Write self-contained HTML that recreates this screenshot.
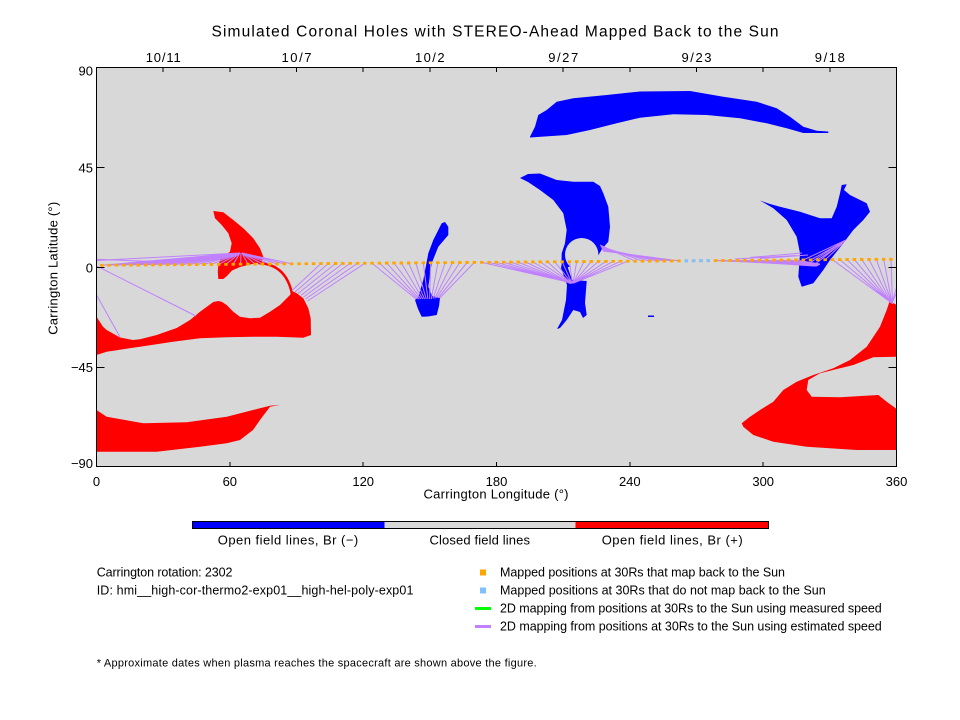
<!DOCTYPE html>
<html><head><meta charset="utf-8"><style>
html,body{margin:0;padding:0;background:#fff;}
svg{display:block;}
text{font-family:"Liberation Sans",sans-serif;fill:#000;}
</style></head><body>
<svg width="960" height="720" viewBox="0 0 960 720" xmlns="http://www.w3.org/2000/svg">
<defs>
<clipPath id="pc"><rect x="96.5" y="67.5" width="800" height="399"/></clipPath>
<pattern id="dots" patternUnits="userSpaceOnUse" x="99.95" y="263.8" width="7.308" height="20"><rect x="0" y="0" width="3.5" height="3" fill="#ffa500"/></pattern>
</defs>
<rect x="0" y="0" width="960" height="720" fill="#fff"/>

<!-- title -->
<text x="495" y="36.5" font-size="15.5" text-anchor="middle" textLength="567" lengthAdjust="spacing">Simulated Coronal Holes with STEREO-Ahead Mapped Back to the Sun</text>

<!-- date labels -->
<g font-size="13" text-anchor="middle">
<text x="163.2" y="62" textLength="35">10/11</text>
<text x="296.5" y="62" textLength="30">10/7</text>
<text x="429.8" y="62" textLength="29.5">10/2</text>
<text x="563.2" y="62" textLength="30">9/27</text>
<text x="696.5" y="62" textLength="30">9/23</text>
<text x="829.8" y="62" textLength="30">9/18</text>
</g>

<!-- plot background -->
<rect x="96.5" y="67.5" width="800" height="399" fill="#d8d8d8"/>

<g clip-path="url(#pc)">
<!-- Blue polar band -->
<path fill="#0000ff" d="M530,136.7 L535,126.7 L538.3,115 L546.7,110 L556.7,101.7 L573.3,98.3 L606.7,95 L640,91.5 L690,91 L723.3,96.7 L756.7,101.7 L776.7,108.3 L790,116.7 L803.3,126.7 L816.7,130.7 L828.3,131.5 L828.3,133 L803.3,133 L786.7,128.3 L766.7,123.3 L740,118.3 L706.7,115 L673.3,114.3 L640,117.7 L616.7,123.3 L590,130 L566.7,135 L530,137.5 Z"/>
<!-- Blue hole lon ~210 -->
<path fill="#0000ff" d="M520,178 L528,174 L540,173.5 L556.7,180 L573.3,181.7 L593.3,181.7 L600,186 L603.3,193.3 L608.3,206.7 L610,226.7 L608.3,241.7 L602,249 L598,256 L582,262 L566,268 L563,268 L561.5,262 L561.7,253.3 L565,243.3 L566.7,230 L563.3,213.3 L553.3,200 L540,190 L528,182 Z"/>
<circle cx="581.7" cy="254.7" r="16.7" fill="#d8d8d8"/>
<path fill="#0000ff" d="M562,262 L566,262 L572,280 L586.7,281 L585,303 L586.7,315 L583,318 L580,312 L573.3,310 L566.7,320 L560,328 L557,329 L562,320 L566,300 L567,285 L561,268 Z"/>
<rect x="648" y="315.5" width="6" height="1.5" fill="#0000ff"/>
<!-- Blue strip lon ~150 -->
<path fill="#0000ff" d="M441.7,223.3 L445,222 L448.3,226.7 L448.3,235 L438.3,246.7 L431.7,263.3 L428.3,286.7 L432,296 L440,298 L439,306 L436.7,315 L428,316.5 L421.7,316.7 L418,309 L415,300 L418.3,296.7 L423.3,280 L428.3,253.3 L433.3,240 Z"/>
<!-- Blue hole lon ~330 -->
<path fill="#0000ff" d="M760,200.5 L770,204 L780,206.7 L800,211.7 L820,218.3 L831.7,218.3 L836.7,206.7 L840,193.3 L841.7,185 L846.7,184.3 L844,190 L850,195 L866.7,203.3 L870,211.7 L863.3,220 L853.3,230 L843.3,243.3 L830,260 L823.3,270 L813.3,283.3 L801.7,286.7 L798.3,276.7 L800,253.3 L796.7,236.7 L786.7,220 L773.3,208.3 Z"/>

<!-- Red fin -->
<path fill="#ff0000" d="M213.3,211 L223.3,212.3 L233.3,220 L243.3,228.3 L253.3,238.3 L260,248.3 L263.3,256.7 L262,262 L250,264.5 L240,267 L232,270.5 L227,276 L223.3,279 L218.3,279 L217.8,271.7 L218.3,265 L221,258 L230,251.7 L231.7,243.3 L228.3,233.3 L221.7,225 L215,218.3 Z"/>
<path fill="none" stroke="#ff0000" stroke-width="2.5" d="M258,263 Q286,264 292,294"/>
<!-- Red big band -->
<path fill="#ff0000" d="M96.5,316.7 L103,326.7 L106.7,330 L120,337.5 L133,340 L140,339.3 L156.7,335 L176.7,328 L190,320 L200,311.7 L213.3,302 L218.3,301 L221.7,301.7 L226.7,305 L233.3,311.7 L240,316.7 L250,318.3 L260,317.7 L270,311.7 L280,305 L290,295 L292,291 L296.7,293.3 L303.3,298.3 L308.3,308.3 L310.7,318.3 L311,335 L303.3,337.7 L276.7,336.7 L253.3,336.7 L226.7,337.3 L200,338.3 L173,341.7 L140,346.7 L106.7,351.7 L96.5,355 Z"/>
<!-- Red lower band -->
<path fill="#ff0000" d="M96.5,410 L106.7,416.7 L143.3,423.3 L186.7,422.3 L226.7,416.7 L253,410 L270,405.7 L280,405 L270,406.7 L260,420 L253,430 L240,440 L226.7,443.3 L200,446.7 L156.7,451.7 L106.7,451.7 L96.5,451.7 Z"/>
<!-- Red bottom right -->
<path fill="#ff0000" d="M890,300 L893,303 L897,305 L897,356.7 L873.3,357.3 L853.3,365 L840,368.3 L820,373.3 L808.3,380 L806.7,390 L811.7,396.7 L840,397.3 L878.3,395 L886.7,401.7 L897,409.3 L897,450 L856.7,450 L806.7,446.7 L773.3,441.7 L753.3,435 L743.3,426.7 L741.7,423.3 L750,416.7 L760,410 L773.3,401.7 L783.3,390 L796.7,381.7 L813.3,375 L833.3,368.3 L850,360 L866.7,346.7 L880,326.7 L886.7,310 Z"/>

<!-- Purple mapping lines -->
<path fill="none" stroke="#c080ff" stroke-width="1" d="
M101.7,265.3L240,253 M109,265.2L240,253 M116.3,265.2L240,253 M123.6,265.1L240,253 M130.9,265.1L240,253
M138.2,265L240,253 M145.5,265L240,253 M152.9,264.9L240,253 M160.2,264.8L240,253 M167.5,264.8L240,253
M174.8,264.7L240,253 M182.1,264.7L240,253 M189.4,264.6L240,253 M196.7,264.6L240,253 M204,264.5L240,253
M211.3,264.5L240,253 M218.6,264.4L240,253 M225.9,264.3L240,253 M233.2,264.3L240,253
M240.6,264.2L241,253 M247.9,264.2L242,253 M255.2,264.1L242,253 M262.5,264.1L242,253 M269.8,264L242,253
M277.1,263.9L242,253 M284.4,263.9L242,253 M291.7,263.8L242,253
M96.5,259.2L165,262 M96.5,260.5L240,253
M292,290.5L320.9,263.6 M295,292L328.2,263.6 M298,293.5L335.6,263.5 M301,295.3L342.9,263.4
M303.5,297L350.2,263.4 M305.5,299L357.5,263.3 M307.5,301L364.8,263.3
M372.1,263.2L416,299 M379.4,263.1L417.7,299 M386.7,263.1L419.4,299 M394,263L421.1,299 M401.3,263L422.8,299
M408.6,262.9L424.5,299 M415.9,262.9L426.2,299 M423.3,262.8L427.9,299 M430.6,262.8L429.6,299 M437.9,262.7L431.3,299
M445.2,262.6L433,298.5 M452.5,262.6L434.7,298.5 M459.8,262.5L436.4,298 M467.1,262.5L438.1,298 M474.4,262.4L439.8,298
M481.7,262.4L568,282 M489,262.3L568.5,282.3 M496.3,262.3L569,282.6 M503.6,262.2L569.5,282.9 M511,262.2L570,283.2
M518.3,262.1L570.5,283.5 M525.6,262L571,283.5 M532.9,262L571,283.5 M540.2,261.9L571.5,283.5 M547.5,261.9L571.5,283.5
M554.8,261.8L572,283.5 M562.1,261.7L572,283.5
M569.4,261.7L572.5,283.3 M576.7,261.6L573,283.3 M584,261.6L573,283.3 M591.3,261.5L573,283.3 M598.6,261.4L573,283.3
M606,261.4L573,283.3 M613.3,261.3L573,283.3 M620.6,261.3L573,283.3 M627.9,261.2L573,283.3
M600,245L635.2,261.2 M600.5,246L642.5,261.1 M601,247L649.8,261.1 M601.5,248L657.1,261 M602,249L664.4,261
M602.5,250L671.7,260.9 M603,251L679,260.9
M715.6,260.5L812,265 M722.9,260.5L812,265.5 M730.2,260.4L813,266 M737.5,260.4L813,266 M744.8,260.3L814,266
M752.1,260.3L815,266 M759.4,260.2L816,266 M766.7,260.2L817,266 M774,260.1L818,265.5 M781.3,260.1L819,265
M788.7,260L820,264.5 M796,260L820,264
M750,257.5L802,253 M735,259L796,255.5 M760,258.5L808,255
M803.3,260L846,240 M810.6,259.9L845,241 M817.9,259.8L843.5,242.5 M825.2,259.8L842,244 M808,264L846,240 M814,265L844,241.5
M832.5,259.7L889,301 M839.8,259.6L889.5,301.5 M847.1,259.6L890,302 M854.4,259.5L890.5,302.5 M861.7,259.5L891,303
M869,259.4L891.5,303 M876.4,259.4L892,303.5 M883.7,259.3L892,303.5 M891,259.3L892.5,304
M892,303L905,259 M892,303L912,259
M96.5,266L196,316 M96.5,295L120,337
"/>

<!-- Mapped positions dots -->
<g transform="rotate(-0.441 101.7 265.3)">
<rect x="99.95" y="263.8" width="795" height="3" fill="url(#dots)"/>
<rect x="684.59" y="263.8" width="3.5" height="3" fill="#80c0ff"/>
<rect x="691.9" y="263.8" width="3.5" height="3" fill="#80c0ff"/>
<rect x="699.21" y="263.8" width="3.5" height="3" fill="#80c0ff"/>
<rect x="706.51" y="263.8" width="3.5" height="3" fill="#80c0ff"/>
</g>
</g>

<!-- plot border -->
<rect x="96.5" y="67.5" width="800" height="399" fill="none" stroke="#000" stroke-width="1"/>

<!-- ticks -->
<path fill="none" stroke="#000" stroke-width="1" shape-rendering="crispEdges" d="
M229.8,466.5V462 M363.2,466.5V462 M496.5,466.5V462 M629.8,466.5V462 M763.2,466.5V462
M163.2,67.5V72 M229.8,67.5V72 M296.5,67.5V72 M363.2,67.5V72 M429.8,67.5V72 M496.5,67.5V72
M563.2,67.5V72 M629.8,67.5V72 M696.5,67.5V72 M763.2,67.5V72 M829.8,67.5V72
M96.5,167.5H104.5 M96.5,267.5H104.5 M96.5,367.5H104.5
M896.5,167.5H888.5 M896.5,267.5H888.5 M896.5,367.5H888.5
"/>

<!-- axis labels -->
<g font-size="13">
<text x="93" y="75.5" text-anchor="end">90</text>
<text x="93" y="172.5" text-anchor="end">45</text>
<text x="93" y="272.5" text-anchor="end">0</text>
<text x="93" y="372" text-anchor="end">−45</text>
<text x="93" y="468" text-anchor="end">−90</text>
</g>
<g font-size="13" text-anchor="middle">
<text x="96.5" y="486">0</text>
<text x="229.8" y="486">60</text>
<text x="363.2" y="486">120</text>
<text x="496.5" y="486">180</text>
<text x="629.8" y="486">240</text>
<text x="763.2" y="486">300</text>
<text x="896.5" y="486">360</text>
<text x="496" y="498.5" textLength="145">Carrington Longitude (°)</text>
<text transform="translate(57.5,268.3) rotate(-90)" textLength="133">Carrington Latitude (°)</text>
</g>

<!-- colorbar -->
<rect x="192.5" y="521.5" width="192" height="7" fill="#0000ff"/>
<rect x="384.5" y="521.5" width="191" height="7" fill="#d8d8d8"/>
<rect x="575.5" y="521.5" width="193" height="7" fill="#ff0000"/>
<rect x="192.5" y="521.5" width="576" height="7" fill="none" stroke="#000" stroke-width="1"/>
<g font-size="13" text-anchor="middle">
<text x="288" y="544.5" textLength="140.5">Open field lines, Br (−)</text>
<text x="479.7" y="544.5" textLength="100.5">Closed field lines</text>
<text x="672.2" y="544.5" textLength="141">Open field lines, Br (+)</text>
</g>

<!-- info text -->
<g font-size="12.5">
<text x="96.7" y="576.5" textLength="135.7">Carrington rotation: 2302</text>
<text x="96.7" y="594.5" textLength="316.7">ID: hmi__high-cor-thermo2-exp01__high-hel-poly-exp01</text>
<text x="500" y="576.5" textLength="285">Mapped positions at 30Rs that map back to the Sun</text>
<text x="500" y="594.5" textLength="325.7">Mapped positions at 30Rs that do not map back to the Sun</text>
<text x="500" y="612.5" textLength="381.7">2D mapping from positions at 30Rs to the Sun using measured speed</text>
<text x="500" y="630.5" textLength="381.7">2D mapping from positions at 30Rs to the Sun using estimated speed</text>
</g>
<rect x="480" y="569.5" width="6" height="6" fill="#ffa500"/>
<rect x="480" y="587.5" width="6" height="6" fill="#80c0ff"/>
<rect x="475" y="607" width="16" height="3" fill="#00ff00"/>
<rect x="475" y="625" width="16" height="3" fill="#c080ff"/>

<text x="96.7" y="666.5" font-size="11" textLength="440">* Approximate dates when plasma reaches the spacecraft are shown above the figure.</text>
</svg>
</body></html>
